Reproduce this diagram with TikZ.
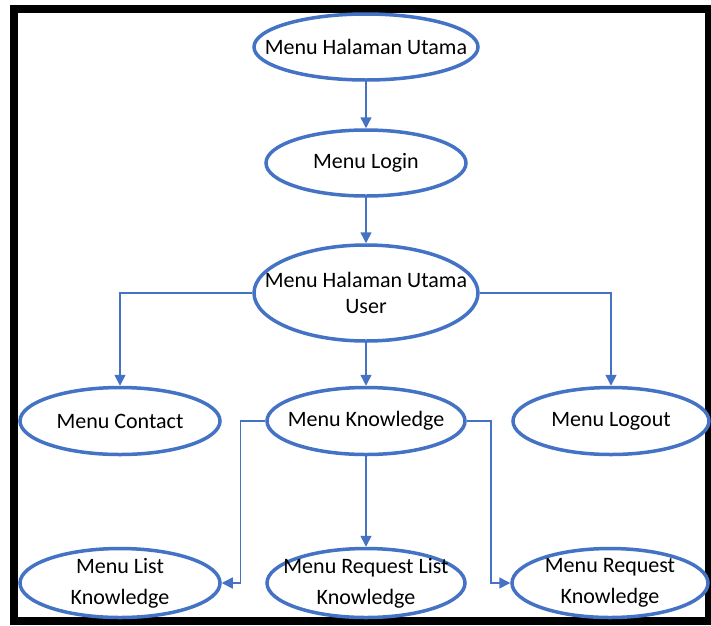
\documentclass[tikz,border=0pt]{standalone}
\usepackage{fontspec}
\setmainfont{Carlito}
\usetikzlibrary{shapes.geometric,arrows.meta}
\definecolor{obox}{RGB}{68,114,196}
\begin{document}
\begin{tikzpicture}[x=1pt,y=-1pt,
  menubox/.style={ellipse, draw=obox, line width=3.5pt, fill=white, inner sep=0pt},
  menutext/.style={align=center, inner sep=0pt, font=\fontsize{22}{28}\selectfont, text=black},
  conn/.style={draw=obox, line width=1.5pt, -{Triangle[length=11pt,width=11pt]}}]
\useasboundingbox (0,0) rectangle (711,625);
\fill[white] (0,0) rectangle (711,625);
% frame
\fill[black] (10,5) rectangle (711,13);
\fill[black] (10,5) rectangle (18,625);
\fill[black] (10,617) rectangle (711,625);
\fill[black] (705,5) rectangle (711,625);
% ellipses
\node[menubox, minimum width=224pt, minimum height=66pt] (top) at (366,47) {};
\node[menubox, minimum width=200pt, minimum height=66pt] (login) at (366,163) {};
\node[menubox, minimum width=224pt, minimum height=96pt] (user) at (366,293) {};
\node[menubox, minimum width=200pt, minimum height=67pt] (contact) at (120,421) {};
\node[menubox, minimum width=198pt, minimum height=67pt] (know) at (366,421) {};
\node[menubox, minimum width=196pt, minimum height=67pt] (logout) at (611,421) {};
\node[menubox, minimum width=200pt, minimum height=69pt] (list) at (120,583) {};
\node[menubox, minimum width=198pt, minimum height=69pt] (reqlist) at (366,583) {};
\node[menubox, minimum width=196pt, minimum height=69pt] (req) at (610,583) {};
% texts
\node[menutext] (topt) at (top) {Menu Halaman Utama};
\node[menutext] (logint) at (login) {Menu Login};
\node[menutext, font=\fontsize{22}{26}\selectfont] (usert) at (user) {Menu Halaman Utama\\User};
\node[menutext] (contactt) at (contact) {Menu Contact};
\node[menutext] (knowt) at (know) {Menu Knowledge};
\node[menutext] (logoutt) at (logout) {Menu Logout};
\node[menutext, font=\fontsize{22}{31}\selectfont] (listt) at (list) {Menu List\\Knowledge};
\node[menutext, font=\fontsize{22}{31}\selectfont] (reqlistt) at (reqlist) {Menu Request List\\Knowledge};
\node[menutext, font=\fontsize{22}{31}\selectfont] (reqt) at (req) {Menu Request\\Knowledge};
% connectors
\draw[conn] (top.south) -- (login.north);
\draw[conn] (login.south) -- (user.north);
\draw[conn] (user.west) -| (contact.north);
\draw[conn] (user.east) -| (logout.north);
\draw[conn] (user.south) -- (know.north);
\draw[conn] (know.south) -- (reqlist.north);
\draw[conn] (know.west) -- ++(-25,0) |- (list.east);
\draw[conn] (know.east) -- ++(24,0) |- (req.west);
\end{tikzpicture}
\end{document}
